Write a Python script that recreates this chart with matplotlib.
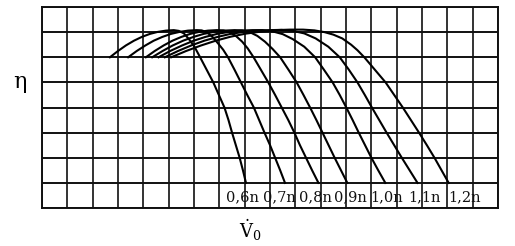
"""Pump efficiency curves eta(V0) at speeds 0.6n ... 1.2n, grid chart."""

import matplotlib
matplotlib.use('Agg')
import matplotlib.pyplot as plt

# ---- Data (grid units: x = columns, y = rows) ----
speed_labels = ['0,6n', '0,7n', '0,8n', '0,9n', '1,0n', '1,1n', '1,2n']

flow_06 = [2.68, 3.0, 3.31, 3.63, 3.94, 4.26, 4.57, 4.89, 5.2,
           5.4, 5.6, 5.8, 6.0, 6.24, 6.5, 6.76, 6.98, 7.2, 7.36, 7.5, 7.65, 7.8, 7.93, 8.05]
eta_06 = [6.0, 6.25, 6.47, 6.66, 6.81, 6.93, 7.01, 7.06, 7.08,
          7.05, 6.95, 6.72, 6.45, 6.0, 5.5, 5.0, 4.5, 4.0, 3.5, 3.0, 2.5, 2.0, 1.5, 1.0]

flow_07 = [3.4, 3.74, 4.08, 4.41, 4.75, 5.09, 5.43, 5.76, 6.1,
           6.3, 6.5, 6.72, 6.95, 7.15, 7.34, 7.6, 7.85, 8.1, 8.36, 8.57, 8.78, 9.0, 9.2, 9.4, 9.59]
eta_07 = [6.0, 6.25, 6.47, 6.66, 6.81, 6.93, 7.01, 7.06, 7.08,
          7.07, 7.0, 6.82, 6.55, 6.3, 6.0, 5.5, 5.0, 4.5, 4.0, 3.5, 3.0, 2.5, 2.0, 1.5, 1.0]

flow_08 = [4.1, 4.45, 4.8, 5.15, 5.5, 5.85, 6.2, 6.55, 6.9,
           7.15, 7.4, 7.65, 7.9, 8.12, 8.35, 8.64, 8.93, 9.2, 9.46, 9.72, 9.96, 10.18, 10.42, 10.66, 10.91]
eta_08 = [6.0, 6.25, 6.47, 6.66, 6.81, 6.93, 7.01, 7.06, 7.08,
          7.07, 7.0, 6.85, 6.62, 6.35, 6.0, 5.5, 5.0, 4.5, 4.0, 3.5, 3.0, 2.5, 2.0, 1.5, 1.0]

flow_09 = [4.35, 4.76, 5.16, 5.57, 5.98, 6.38, 6.79, 7.19, 7.6,
           7.9, 8.2, 8.5, 8.8, 9.1, 9.4, 9.73, 10.05, 10.32, 10.58, 10.83, 11.07, 11.31, 11.55, 11.8, 12.05]
eta_09 = [6.0, 6.25, 6.47, 6.66, 6.81, 6.93, 7.01, 7.06, 7.08,
          7.07, 7.0, 6.85, 6.62, 6.33, 6.0, 5.5, 5.0, 4.5, 4.0, 3.5, 3.0, 2.5, 2.0, 1.5, 1.0]

flow_10 = [4.6, 5.06, 5.53, 5.99, 6.45, 6.91, 7.38, 7.84, 8.3,
           8.7, 9.1, 9.5, 9.9, 10.35, 10.78, 11.13, 11.47, 11.75, 12.01, 12.26, 12.5, 12.75, 13.0, 13.27, 13.55]
eta_10 = [6.0, 6.25, 6.47, 6.66, 6.81, 6.93, 7.01, 7.06, 7.08,
          7.08, 7.03, 6.92, 6.72, 6.42, 6.0, 5.5, 5.0, 4.5, 4.0, 3.5, 3.0, 2.5, 2.0, 1.5, 1.0]

flow_11 = [4.85, 5.37, 5.89, 6.41, 6.93, 7.44, 7.96, 8.48, 9.0,
           9.45, 9.9, 10.35, 10.8, 11.3, 11.75, 12.1, 12.45, 12.74, 13.02, 13.31, 13.6, 13.9, 14.2, 14.51, 14.82]
eta_11 = [6.0, 6.25, 6.47, 6.66, 6.81, 6.93, 7.01, 7.06, 7.08,
          7.09, 7.05, 6.95, 6.75, 6.42, 6.0, 5.52, 5.0, 4.5, 4.0, 3.5, 3.0, 2.5, 2.0, 1.5, 1.0]

flow_12 = [5.1, 5.69, 6.28, 6.86, 7.45, 8.04, 8.63, 9.21, 9.8,
           10.3, 10.75, 11.15, 11.5, 11.85, 12.2, 12.45, 12.72, 13.14, 13.56, 13.9, 14.24,
           14.56, 14.88, 15.19, 15.49, 15.77, 16.05]
eta_12 = [6.0, 6.25, 6.47, 6.66, 6.82, 6.94, 7.02, 7.08, 7.1,
          7.1, 7.07, 7.0, 6.9, 6.75, 6.5, 6.28, 6.0, 5.5, 5.0, 4.5, 4.0,
          3.5, 3.0, 2.5, 2.0, 1.5, 1.0]

flows = [flow_06, flow_07, flow_08, flow_09, flow_10, flow_11, flow_12]
etas = [eta_06, eta_07, eta_08, eta_09, eta_10, eta_11, eta_12]

# label anchor x positions (centres of the texts)
label_x = [7.93, 9.36, 10.8, 12.16, 13.62, 15.08, 16.66]
label_y = 0.42

N_COLS = 18
N_ROWS = 8

fig = plt.figure(figsize=(5.15, 2.46), dpi=100)
ax = fig.add_axes([0.0816, 0.1545, 0.8855, 0.817])

for xv in range(N_COLS + 1):
    ax.axvline(xv, color='#111111', lw=1.2, zorder=1)
for yv in range(N_ROWS + 1):
    ax.axhline(yv, color='#111111', lw=1.4, zorder=1)

for fx, ey in zip(flows, etas):
    ax.plot(fx, ey, color='black', lw=1.5, solid_joinstyle='round', zorder=3)

for lx, lab in zip(label_x, speed_labels):
    ax.text(lx, label_y, lab, ha='center', va='center', fontsize=10.5,
            family='DejaVu Serif', color='#111111', zorder=4)

ax.set_xlim(0, N_COLS)
ax.set_ylim(0, N_ROWS)
ax.set_xticks([])
ax.set_yticks([])
for sp in ax.spines.values():
    sp.set_linewidth(1.4)
    sp.set_color('#111111')

plt.rcParams['mathtext.fontset'] = 'dejavuserif'
fig.text(20 / 515, 1 - 82 / 246, 'η', ha='center', va='center', fontsize=16,
         family='DejaVu Serif')
fig.text(250 / 515, 1 - 230 / 246, r'$\dot{\mathrm{V}}_0$', ha='center', va='center',
         fontsize=13)

fig.savefig('out.png', dpi=100)
